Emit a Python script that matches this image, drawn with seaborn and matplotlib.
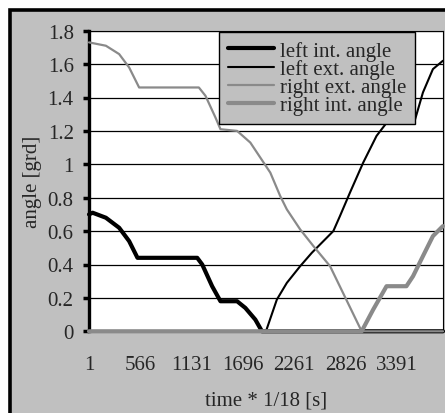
import matplotlib
matplotlib.use("Agg")
import matplotlib.pyplot as plt
from matplotlib.patches import Rectangle
import seaborn as sns
import pandas as pd

# ---- data ----
left_int_t = [1, 41, 187, 333, 443, 535, 1193, 1248, 1357, 1449, 1632, 1723, 1833, 1906, 3900]
left_int_v = [0.70, 0.71, 0.68, 0.62, 0.54, 0.44, 0.44, 0.40, 0.27, 0.18, 0.18, 0.14, 0.07, 0.0, 0.0]

left_ext_t = [1, 1950, 2070, 2180, 2327, 2455, 2692, 2765, 2875, 3021, 3168, 3295, 3588, 3679, 3789, 3899]
left_ext_v = [0.0, 0.0, 0.19, 0.29, 0.39, 0.47, 0.60, 0.69, 0.83, 1.01, 1.17, 1.26, 1.26, 1.43, 1.57, 1.62]

right_ext_t = [1, 187, 333, 443, 553, 1211, 1284, 1394, 1449, 1632, 1778, 1888, 1998, 2107, 2180,
               2327, 2473, 2656, 3004, 3900]
right_ext_v = [1.73, 1.71, 1.66, 1.58, 1.46, 1.46, 1.41, 1.28, 1.21, 1.20, 1.13, 1.04, 0.95, 0.81, 0.73,
               0.61, 0.51, 0.39, 0.0, 0.0]

right_int_t = [1, 3004, 3131, 3278, 3497, 3570, 3679, 3789, 3899]
right_int_v = [0.0, 0.0, 0.13, 0.27, 0.27, 0.33, 0.45, 0.57, 0.63]

series_names = ["left int. angle", "left ext. angle", "right ext. angle", "right int. angle"]
x_ticks = [1, 566, 1131, 1696, 2261, 2826, 3391]
y_ticks = [0, 0.2, 0.4, 0.6, 0.8, 1.0, 1.2, 1.4, 1.6, 1.8]
y_tick_labels = ["0", "0.2", "0.4", "0.6", "0.8", "1", "1.2", "1.4", "1.6", "1.8"]

# ---- style ----
sns.set_style("white")
plt.rcParams["font.family"] = ["Liberation Serif", "DejaVu Serif"]
plt.rcParams["font.size"] = 15

W, H = 445, 414
fig = plt.figure(figsize=(W / 100, H / 100), dpi=100)
fig.patch.set_facecolor("white")

# outer chart frame (gray with thick black border on top/left)
fig.patches.append(Rectangle((9.5 / W, -0.05), 1.1, 1 - 11 / H + 0.05,
                             transform=fig.transFigure, facecolor="#c0c0c0",
                             edgecolor="black", lw=2.6, zorder=-10))

ax = fig.add_axes([89 / W, 1 - 332.3 / H, (443 - 89) / W, (332.3 - 31.7) / H])
ax.set_facecolor("white")

styles = [("black", 3.0), ("black", 1.5), ("#8a8a8a", 1.6), ("#8a8a8a", 3.0)]
data = [(left_int_t, left_int_v), (left_ext_t, left_ext_v),
        (right_ext_t, right_ext_v), (right_int_t, right_int_v)]
for name, (t, v), (c, lw) in zip(series_names, data, styles):
    df = pd.DataFrame({"t": t, "v": v})
    sns.lineplot(data=df, x="t", y="v", ax=ax, color=c, linewidth=lw, label=name,
                 clip_on=False, zorder=5)

ax.set_xlim(1, 3900)
ax.set_ylim(0, 1.8)
ax.set_yticks(y_ticks)
ax.set_yticklabels(y_tick_labels)
ax.set_xticks(x_ticks)
ax.set_xticklabels([str(x) for x in x_ticks])
ax.set_xlabel("time * 1/18 [s]", labelpad=12)
ax.set_ylabel("angle [grd]", labelpad=4)

for y in y_ticks[1:]:
    ax.axhline(y, color="black", lw=0.9, zorder=1)

for s in ["top", "right"]:
    ax.spines[s].set_visible(True)
    ax.spines[s].set_color("black")
    ax.spines[s].set_linewidth(0.8)
ax.spines["left"].set_linewidth(2.4)
ax.spines["left"].set_color("black")
ax.spines["bottom"].set_linewidth(1.5)
ax.spines["bottom"].set_color("black")

ax.tick_params(axis="y", left=True, length=4, width=2.5, pad=7, color="black", labelsize=15)
ax.tick_params(axis="x", bottom=False, length=0, pad=17, labelsize=15)

leg = ax.legend(loc="upper left", bbox_to_anchor=(219 / W, 1 - 33 / H),
                bbox_transform=fig.transFigure, frameon=True, fancybox=False,
                facecolor="#c0c0c0", edgecolor="black", framealpha=1, fontsize=15,
                labelspacing=-0.07, handlelength=2.2, handletextpad=0.3,
                borderpad=0.42, borderaxespad=0)
leg.get_frame().set_linewidth(1.0)
leg.set_zorder(10)

fig.savefig("out.png", dpi=100, facecolor="white")
